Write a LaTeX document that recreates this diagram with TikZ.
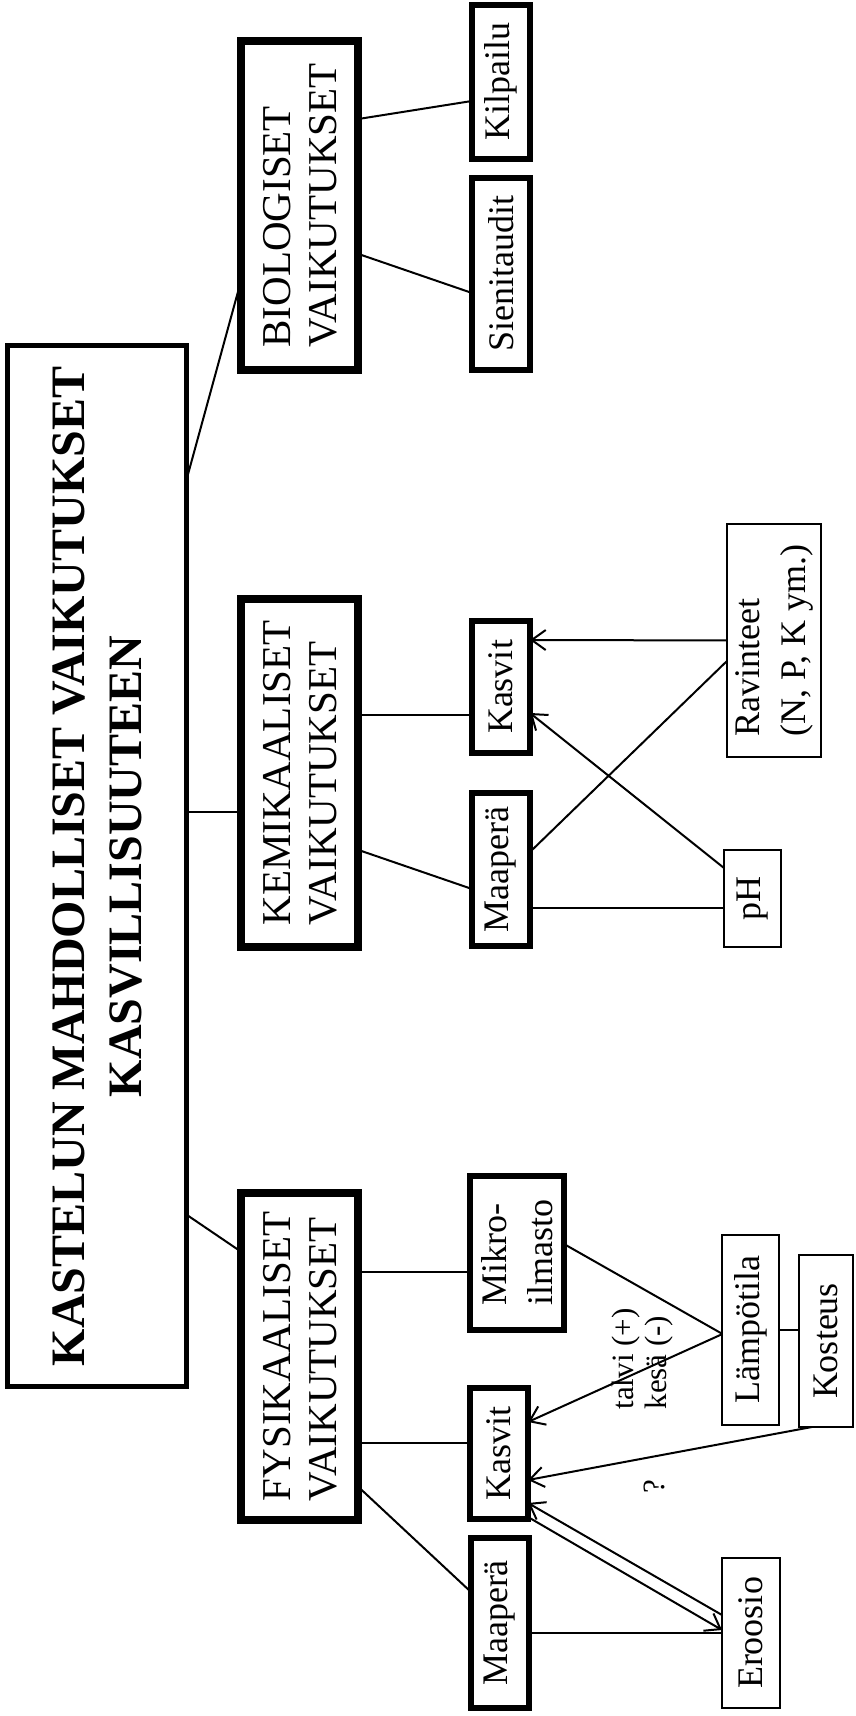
\documentclass[tikz,border=0pt]{standalone}
\usepackage{fontspec}
\setmainfont{Liberation Serif}
\usetikzlibrary{arrows.meta}
\usetikzlibrary{calc}

\begin{document}
\begin{tikzpicture}[x=1pt,y=1pt,
    every node/.style={inner sep=0pt, outer sep=0pt},
    mainbox/.style={draw, line width=5pt, minimum width=1041pt, minimum height=179pt, align=center, font=\fontsize{48}{57}\selectfont\bfseries},
    hbox/.style={draw, line width=8pt, minimum height=117pt, align=left, font=\fontsize{41}{46}\selectfont},
    kbox/.style={draw, line width=6.5pt, minimum height=58pt, align=left, font=\fontsize{36}{46}\selectfont},
    obox/.style={draw, line width=2pt, minimum height=57pt, align=left, font=\fontsize{36}{46}\selectfont},
    lbl/.style={align=left, font=\fontsize{31}{33}\selectfont},
    conn/.style={line width=2pt},
    arr/.style={line width=2pt, -{Straight Barb[length=14pt,width=20pt]}}]
  \begin{scope}[rotate=90, transform shape]
    \useasboundingbox (0,0) rectangle (1716,855);

    \node[mainbox] (main) at (849.5,757.5) {KASTELUN MAHDOLLISET VAIKUTUKSET\\KASVILLISUUTEEN};

    \node[hbox, minimum width=327pt] (fys) at (359.5,555) {FYSIKAALISET\\VAIKUTUKSET};
    \node[hbox, minimum width=348pt] (kem) at (943,555) {KEMIKAALISET\\VAIKUTUKSET};
    \node[hbox, minimum width=329pt] (bio) at (1510.5,555) {BIOLOGISET\\VAIKUTUKSET};

    \node[kbox, minimum width=170pt] (fysmaa) at (93,355) {Maaperä};
    \node[kbox, minimum width=131pt] (fyskasvit) at (262.5,356) {Kasvit};
    \node[kbox, minimum width=154pt, minimum height=94pt] (mikro) at (463,338) {Mikro-\\ilmasto};
    \node[kbox, minimum width=153pt] (kemmaa) at (846.5,354) {Maaperä};
    \node[kbox, minimum width=132pt] (kemkasvit) at (1029,354) {Kasvit};
    \node[kbox, minimum width=192pt] (sieni) at (1442,354) {Sienitaudit};
    \node[kbox, minimum width=154pt] (kilpailu) at (1634,354) {Kilpailu};

    \node[obox, minimum width=150pt, minimum height=58pt] (eroosio) at (83,104) {Eroosio};
    \node[obox, minimum width=190pt] (lampo) at (386,104) {Lämpötila};
    \node[obox, minimum width=172pt, minimum height=54pt] (kosteus) at (375,29) {Kosteus};
    \node[obox, minimum width=97pt] (ph) at (817.5,102.5) {pH};
    \node[obox, minimum width=233pt, minimum height=94pt] (ravinteet) at (1075.5,81) {Ravinteet\\(N, P, K ym.)};

    \node[lbl] (vuodenaika) at (357,212) {talvi (+)\\kesä (-)};
    \node[lbl] (kysymys) at (229,201) {?};

    \draw[conn] ($(main.south)+(-348.5,0)$) -- ($(fys.north)+(104.5,0)$);
    \draw[conn] ($(main.south)+(54.5,0)$) -- ($(kem.north)+(-39,0)$);
    \draw[conn] ($(main.south)+(388.5,0)$) -- ($(bio.north)+(-73.5,0)$);

    \draw[conn] ($(bio.south)+(86.5,0)$) -- ($(kilpailu.north)+(-19,0)$);
    \draw[conn] ($(bio.south)+(-48.5,0)$) -- ($(sieni.north)+(-19,0)$);

    \draw[conn] ($(kem.south)+(58,0)$) -- ($(kemkasvit.north)+(-28,0)$);
    \draw[conn] ($(kem.south)+(-77,0)$) -- ($(kemmaa.north)+(-19.5,0)$);
    \draw[arr] (ravinteet.north) -- ($(kemkasvit.south)+(47,0)$);
    \draw[arr] ($(ph.north)+(30.5,0)$) -- ($(kemkasvit.south)+(-26,0)$);
    \draw[conn] ($(kemmaa.south)+(17.5,0)$) -- ($(ravinteet.north)+(-20.5,0)$);
    \draw[conn] ($(kemmaa.south)+(-38.5,0)$) -- ($(ph.north)+(-9.5,0)$);

    \draw[conn] ($(fys.south)+(84.5,0)$) -- ($(mikro.north)+(-19,0)$);
    \draw[conn] ($(fys.south)+(-86.5,0)$) -- ($(fyskasvit.north)+(10.5,0)$);
    \draw[conn] ($(fys.south)+(-130.5,0)$) -- ($(fysmaa.north)+(31,0)$);
    \draw[conn] ($(mikro.south)+(9,0)$) -- ($(lampo.north)+(-4,0)$);
    \draw[arr] ($(lampo.north)+(-4,0)$) -- ($(fyskasvit.south)+(31.5,0)$);
    \draw[conn] (lampo.south) -- ($(kosteus.north)+(11,0)$);
    \draw[arr] ($(kosteus.west)+(0,14)$) -- ($(fyskasvit.south)+(-26.5,0)$);
    \draw[arr] ($(eroosio.north)+(18,0)$) -- ($(fyskasvit.south)+(-49.5,0)$);
    \draw[arr] ($(fyskasvit.south)+(-63.5,0)$) -- ($(eroosio.north)+(3,0)$);
    \draw[conn] ($(fysmaa.south)+(-10,0)$) -- (eroosio.north);
  \end{scope}
\end{tikzpicture}
\end{document}
